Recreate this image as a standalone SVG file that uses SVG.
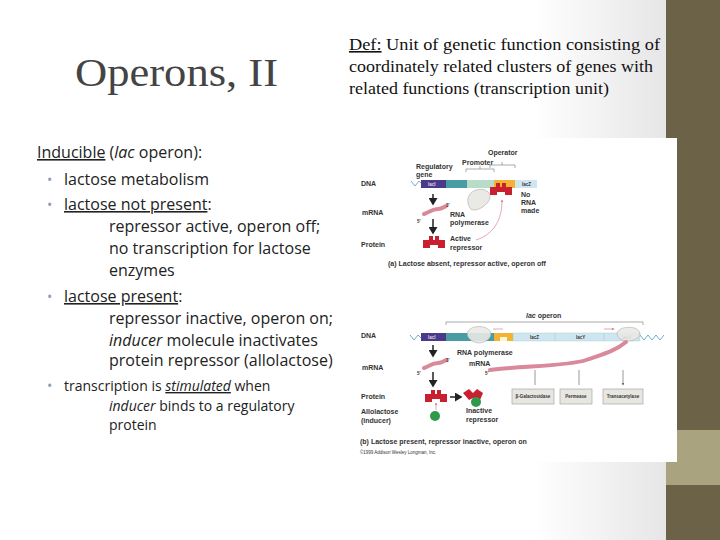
<svg xmlns="http://www.w3.org/2000/svg" width="720" height="540" viewBox="0 0 720 540">
<style>
.b{font-family:"Open Sans","Noto Sans",sans-serif;font-size:16px;fill:#222}
.s{font-size:14px}
.bu{font-family:"Open Sans","Noto Sans",sans-serif;fill:#8aa0b0;font-size:14px}
.f{font-family:"Liberation Sans",Arial,sans-serif;font-size:7px;font-weight:bold;fill:#333}
.g{font-family:"Liberation Sans",Arial,sans-serif;font-size:4.5px;font-weight:bold;fill:#333}
.d{font-family:"Liberation Serif",serif;font-size:16px;fill:#111}
.ar{stroke:#222;stroke-width:1.5;fill:none;marker-end:url(#ah)}
.th{stroke:#555;stroke-width:0.6;fill:none;marker-end:url(#ah2)}
.rep{fill:#c8202f}
.mr{fill:none;stroke:#d9899a;stroke-width:4;stroke-linecap:round}
.bx{fill:#e8e6e1;stroke:#999;stroke-width:0.6}
.br{fill:none;stroke:#888;stroke-width:0.7}
</style>
<defs>
<linearGradient id="bg" x1="0" x2="1" y1="0" y2="0"><stop offset="0.8" stop-color="#fff"/><stop offset="1" stop-color="#e6e6e6"/></linearGradient>
<marker id="ah" markerWidth="6" markerHeight="6" refX="4" refY="3" orient="auto"><path d="M0,0L5,3L0,6z" fill="#222"/></marker>
<marker id="ah2" markerWidth="6" markerHeight="6" refX="4" refY="3" orient="auto"><path d="M0,1L5,3L0,5z" fill="#555"/></marker>
<marker id="ahp" markerWidth="6" markerHeight="6" refX="4" refY="3" orient="auto"><path d="M0,1L5,3L0,5z" fill="#d46a88"/></marker>
<path id="repshape" d="M0,4h6v-4h4v4h2v-4h4v4h6v8h-7v-3h-8v3h-7z"/>
</defs>
<rect width="666" height="540" fill="url(#bg)"/>
<rect x="666" y="0" width="54" height="540" fill="#6b6247"/>
<rect x="666" y="430" width="54" height="55" fill="#a9a47f"/>
<g id="title"><text x="75" y="86" textLength="203" lengthAdjust="spacingAndGlyphs" font-family="'Liberation Serif',serif" font-size="40" fill="#444">Operons, II</text></g>
<g id="def">
<text class="d" x="349" y="50" textLength="311" lengthAdjust="spacingAndGlyphs"><tspan text-decoration="underline">Def:</tspan>  Unit of genetic function consisting of</text>
<text class="d" x="349" y="72" textLength="304" lengthAdjust="spacingAndGlyphs">coordinately related clusters of genes with</text>
<text class="d" x="349" y="94" textLength="260" lengthAdjust="spacingAndGlyphs">related functions (transcription unit)</text>
</g>
<g id="body">
<text class="b" x="37" y="158"><tspan text-decoration="underline">Inducible</tspan> (<tspan font-style="italic">lac</tspan> operon):</text>
<text class="bu" x="47" y="185">•</text><text class="b" x="64" y="185">lactose metabolism</text>
<text class="bu" x="47" y="210">•</text><text class="b" x="64" y="210"><tspan text-decoration="underline">lactose not present</tspan>:</text>
<text class="b" x="109" y="232">repressor active, operon off;</text>
<text class="b" x="109" y="254">no transcription for lactose</text>
<text class="b" x="109" y="276">enzymes</text>
<text class="bu" x="47" y="302">•</text><text class="b" x="64" y="302"><tspan text-decoration="underline">lactose present</tspan>:</text>
<text class="b" x="109" y="324">repressor inactive, operon on;</text>
<text class="b" x="109" y="346"><tspan font-style="italic">inducer</tspan> molecule inactivates</text>
<text class="b" x="109" y="366">protein repressor (allolactose)</text>
<text class="bu" x="47" y="391" font-size="12">•</text><text class="b s" x="64" y="391">transcription is <tspan font-style="italic" text-decoration="underline">stimulated</tspan> when</text>
<text class="b s" x="109" y="411"><tspan font-style="italic">inducer</tspan> binds to a regulatory</text>
<text class="b s" x="109" y="430">protein</text>
</g>
<g id="figure">
<rect x="358" y="138" width="319" height="324" fill="#fff"/>
<text class="f" x="488" y="155">Operator</text>
<text class="f" x="462" y="165">Promoter</text>
<text class="f" x="416" y="169">Regulatory</text>
<text class="f" x="416" y="177">gene</text>
<path class="br" d="M466,172v-3h28v3M480,169v-3M490,168v-3h25v3M502,165v-3"/>
<text class="f" x="361" y="186">DNA</text>
<path d="M411,181l4,5l4,-5l2,2" stroke="#6ab0d0" fill="none" stroke-width="1"/>
<rect x="421" y="180" width="25" height="8" fill="#4b3a8a"/>
<text class="g" x="428" y="186" style="fill:#ddd">lacI</text>
<rect x="446" y="180" width="21" height="8" fill="#4a9ca3"/>
<rect x="467" y="180" width="27" height="8" fill="#b8dcc8"/>
<rect x="494" y="180" width="21" height="8" fill="#f2b233"/>
<rect x="515" y="180" width="22" height="8" fill="#cfe6f2"/>
<text class="g" x="522" y="186">lacZ</text>
<use href="#repshape" x="490" y="183" class="rep"/>
<path d="M476,190c10,-3 18,4 12,12c-6,8 -16,10 -18,6c-4,-6 -3,-15 6,-18z" fill="#e9e9e6" stroke="#aaa" stroke-width="0.6"/>
<text class="f" x="521" y="197">No</text>
<text class="f" x="521" y="205">RNA</text>
<text class="f" x="521" y="213">made</text>
<line class="ar" x1="433" y1="194" x2="433" y2="204"/>
<text class="f" x="362" y="215">mRNA</text>
<path class="mr" d="M424,214c6,-2 8,-5 14,-5c3,0 6,-2 8,-3"/>
<text class="g" x="446" y="207">3'</text>
<text class="g" x="417" y="223">5'</text>
<line class="ar" x1="433" y1="219" x2="433" y2="233"/>
<text class="f" x="450" y="217">RNA</text>
<text class="f" x="450" y="225">polymerase</text>
<text class="f" x="361" y="247">Protein</text>
<use href="#repshape" x="423" y="236" class="rep"/>
<text class="f" x="450" y="241">Active</text>
<text class="f" x="450" y="250">repressor</text>
<path d="M476,240c18,-6 26,-20 26,-40" stroke="#d46a88" stroke-width="0.6" fill="none" marker-end="url(#ahp)"/>
<text class="f" x="388" y="266">(a) Lactose absent, repressor active, operon off</text>
<text class="f" x="526" y="318"><tspan font-style="italic">lac</tspan> operon</text>
<path class="br" d="M446,325v-3h197v3"/>
<text class="f" x="361" y="338">DNA</text>
<path d="M410,335l4,5l4,-5l3,3M640,335l4,5l4,-5l4,5l4,-5l4,5l4,-5" stroke="#6ab0d0" fill="none" stroke-width="1"/>
<rect x="421" y="333" width="25" height="8" fill="#4b3a8a"/>
<text class="g" x="428" y="339" style="fill:#ddd">lacI</text>
<rect x="446" y="333" width="48" height="8" fill="#4a9ca3"/>
<rect x="494" y="333" width="19" height="8" fill="#f2b233"/>
<rect x="500" y="337" width="7" height="4" fill="#fff5d0"/>
<rect x="513" y="333" width="127" height="8" fill="#cfe6f2" stroke="#9cb" stroke-width="0.4"/>
<path d="M555,333v8M604,333v8" stroke="#9cb" stroke-width="0.5"/>
<text class="g" x="530" y="339">lacZ</text>
<text class="g" x="576" y="339">lacY</text>
<text class="g" x="622" y="339">lacA</text>
<path d="M468,331c4,-6 18,-6 22,0c3,5 -2,11 -10,12c-8,0 -15,-6 -12,-12z" fill="#e9e9e6" stroke="#aaa" stroke-width="0.6" opacity="0.9"/>
<path d="M618,331c4,-5 18,-5 21,0c3,5 -3,10 -11,10c-8,0 -13,-5 -10,-10z" fill="#e9e9e6" stroke="#aaa" stroke-width="0.6" opacity="0.9"/>
<path d="M493,329h10M604,329h10" stroke="#d46a88" stroke-width="0.6" marker-end="url(#ahp)"/>
<path class="mr" d="M490,370c30,-4 80,-4 96,-10c14,-5 28,-8 40,-18" stroke-width="3.5"/>
<text class="f" x="457" y="355">RNA polymerase</text>
<text class="f" x="469" y="366">mRNA</text>
<text class="g" x="485" y="375">5'</text>
<line class="ar" x1="433" y1="345" x2="433" y2="356"/>
<text class="f" x="362" y="370">mRNA</text>
<path class="mr" d="M424,368c6,-2 8,-5 14,-5c3,0 6,-2 8,-3"/>
<text class="g" x="446" y="362">3'</text>
<text class="g" x="417" y="375">5'</text>
<line class="ar" x1="433" y1="372" x2="433" y2="386"/>
<path class="th" d="M535,370v15M579,370v15M623,370v15"/>
<rect class="bx" x="512" y="389" width="42" height="15"/>
<rect class="bx" x="560" y="389" width="32" height="15"/>
<rect class="bx" x="603" y="389" width="40" height="15"/>
<text class="g" x="533" y="398" text-anchor="middle">β-Galactosidase</text>
<text class="g" x="576" y="398" text-anchor="middle">Permease</text>
<text class="g" x="623" y="398" text-anchor="middle">Transacetylase</text>
<text class="f" x="361" y="399">Protein</text>
<use href="#repshape" x="425" y="390" class="rep"/>
<line class="ar" x1="450" y1="397" x2="461" y2="397"/>
<path d="M463,393l6,-4 4,4 4,-4 6,4-3,7-4,-2-3,0-4,2z" class="rep"/>
<circle cx="476" cy="402" r="5" fill="#2f9a4a"/>
<path d="M436,410v-7" stroke="#d46a88" stroke-width="0.6" marker-end="url(#ahp)"/>
<circle cx="435" cy="416" r="5" fill="#2f9a4a"/>
<text class="f" x="361" y="414">Allolactose</text>
<text class="f" x="361" y="423">(inducer)</text>
<text class="f" x="466" y="413">Inactive</text>
<text class="f" x="466" y="422">repressor</text>
<text class="f" x="360" y="444">(b) Lactose present, repressor inactive, operon on</text>
<text class="g" x="360" y="454" style="font-weight:normal">©1999 Addison Wesley Longman, Inc.</text>
</g>
</svg>
